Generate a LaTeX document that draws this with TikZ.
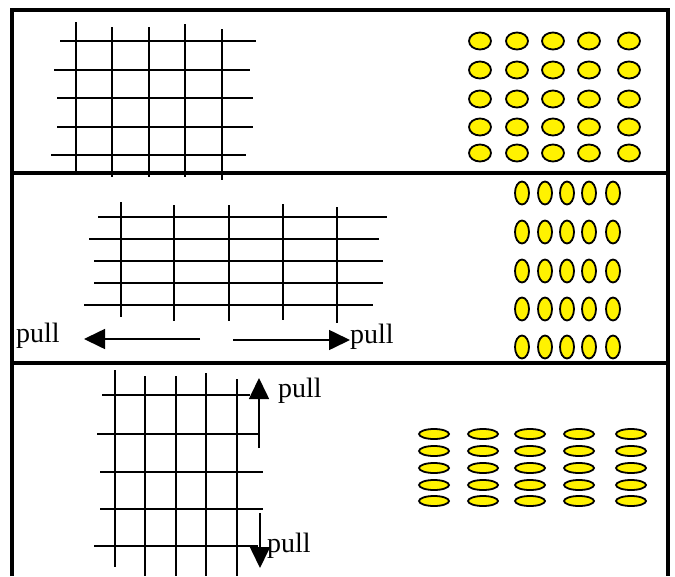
\documentclass[tikz,border=0pt]{standalone}
\usepackage{fontspec}
\setmainfont{Liberation Serif}
\usetikzlibrary{arrows.meta}

\begin{document}
\begin{tikzpicture}[
    x=1pt, y=-1pt,
    frame/.style={line width=3.5pt, black, line join=miter},
    fiber/.style={line width=2pt, black},
    dot/.style={draw=black, fill=yellow, line width=1.8pt},
    pullarrow/.style={-{Triangle[length=21pt, width=20pt]}, line width=1.6pt},
    lbl/.style={font=\fontsize{28}{30}\selectfont, inner sep=0pt, anchor=base west}
]
\useasboundingbox (0,0) rectangle (675,576);

% Frame
\draw[frame] (12,576) -- (12,10) -- (668,10) -- (668,576);
\draw[frame] (12,173) -- (668,173);
\draw[frame] (12,363) -- (668,363);

% Panel 1: relaxed mesh
\draw[fiber] (76,22) -- (76,172);
\draw[fiber] (112,27) -- (112,177);
\draw[fiber] (149,27) -- (149,177);
\draw[fiber] (185,24) -- (185,177);
\draw[fiber] (222,29) -- (222,180);
\draw[fiber] (60,41) -- (256,41);
\draw[fiber] (54,70) -- (250,70);
\draw[fiber] (57,98) -- (253,98);
\draw[fiber] (57,127) -- (253,127);
\draw[fiber] (51,155) -- (246,155);

% Panel 1: round cells
\foreach \x in {480,517,553,589,629}
  \foreach \y in {41,70,99,127,153}
    \draw[dot] (\x,\y) ellipse [x radius=11, y radius=8.5];

% Panel 2: mesh pulled sideways
\draw[fiber] (121,202) -- (121,317);
\draw[fiber] (174,205) -- (174,321);
\draw[fiber] (229,205) -- (229,321);
\draw[fiber] (283,204) -- (283,320);
\draw[fiber] (337,207) -- (337,323);
\draw[fiber] (98,217) -- (387,217);
\draw[fiber] (89,239) -- (379,239);
\draw[fiber] (94,261) -- (383,261);
\draw[fiber] (94,283) -- (383,283);
\draw[fiber] (84,305) -- (373,305);

\coordinate (leftStart) at (200,339);
\coordinate (leftEnd) at (84,339);
\coordinate (rightStart) at (233,340);
\coordinate (rightEnd) at (350,340);
\draw[pullarrow] (leftStart) -- (leftEnd);
\draw[pullarrow] (rightStart) -- (rightEnd);
\node[lbl] (pullLeft) at (16,342) {pull};
\node[lbl] (pullRight) at (350,343) {pull};

% Panel 2: tall cells
\foreach \x in {522,545,567,589,613}
  \foreach \y in {193,232,271,309,347}
    \draw[dot] (\x,\y) ellipse [x radius=7, y radius=11.5];

% Panel 3: mesh pulled up and down
\draw[fiber] (115,370) -- (115,567);
\draw[fiber] (145,376) -- (145,576);
\draw[fiber] (176,376) -- (176,576);
\draw[fiber] (206,373) -- (206,576);
\draw[fiber] (237,379) -- (237,576);
\draw[fiber] (102,395) -- (250,395);
\draw[fiber] (97,434) -- (260,434);
\draw[fiber] (100,472) -- (263,472);
\draw[fiber] (100,509) -- (263,509);
\draw[fiber] (94,546) -- (258,546);

\coordinate (upStart) at (259,448);
\coordinate (upEnd) at (259,378);
\coordinate (downStart) at (260,513);
\coordinate (downEnd) at (260,568);
\draw[pullarrow] (upStart) -- (upEnd);
\draw[pullarrow] (downStart) -- (downEnd);
\node[lbl] (pullUp) at (278,397) {pull};
\node[lbl] (pullDown) at (267,552) {pull};

% Panel 3: flat cells
\foreach \x in {434,483,530,579,631}
  \foreach \y in {434,451,468,485,501}
    \draw[dot] (\x,\y) ellipse [x radius=15, y radius=5];

\end{tikzpicture}
\end{document}
